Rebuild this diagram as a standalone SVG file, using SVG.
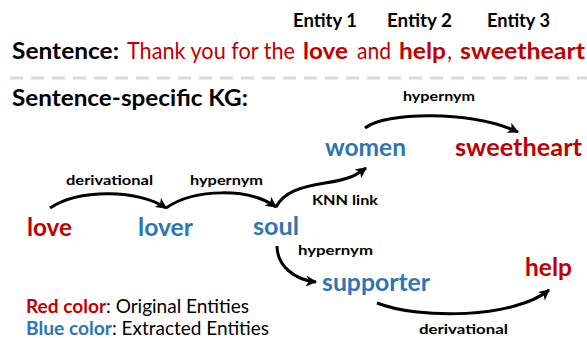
<svg xmlns="http://www.w3.org/2000/svg" width="587" height="338" viewBox="0 0 587 338">
<defs>
<marker id="ah" viewBox="0 0 10 10" refX="9" refY="5" markerWidth="12" markerHeight="11" markerUnits="userSpaceOnUse" orient="auto">
<path d="M0,0 L10,5 L0,10 L2.5,5 z" fill="#000"/>
</marker>
<style>
text{font-family:Lato,"Open Sans","Liberation Sans",sans-serif}
.b{font-weight:bold}
.red{fill:#C00000}
.blue{fill:#2E75B6}
.blk{fill:#000}
.node{font-size:25px;font-weight:bold}
.lbl{font-size:13.5px;font-weight:bold;fill:#000}
.ent{font-size:18px;font-weight:bold;fill:#000}
.big{font-size:23px}
.leg{font-size:19px}
.edge{fill:none;stroke:#000;stroke-width:3;marker-end:url(#ah)}
</style>
</defs>
<rect width="587" height="338" fill="#fff"/>
<g id="header">
<text class="ent" x="293" y="27" textLength="64" lengthAdjust="spacingAndGlyphs">Entity 1</text>
<text class="ent" x="387" y="27" textLength="65" lengthAdjust="spacingAndGlyphs">Entity 2</text>
<text class="ent" x="487" y="27" textLength="63" lengthAdjust="spacingAndGlyphs">Entity 3</text>
<text class="big b blk" x="12" y="59" textLength="107" lengthAdjust="spacingAndGlyphs">Sentence:</text>
<text class="big red" x="127" y="59" textLength="168" lengthAdjust="spacingAndGlyphs">Thank you for the</text>
<text class="big b red" x="303" y="59" textLength="45" lengthAdjust="spacingAndGlyphs">love</text>
<text class="big red" x="357" y="59" textLength="34" lengthAdjust="spacingAndGlyphs">and</text>
<text class="big b red" x="399" y="59" textLength="47" lengthAdjust="spacingAndGlyphs">help</text>
<text class="big red" x="447" y="59">,</text>
<text class="big b red" x="460" y="59" textLength="125" lengthAdjust="spacingAndGlyphs">sweetheart</text>
<line x1="10" y1="78" x2="587" y2="78" stroke="#d9d9d9" stroke-width="3" stroke-dasharray="13 8"/>
<text class="big b blk" x="12" y="106" textLength="236" lengthAdjust="spacingAndGlyphs">Sentence-specific KG:</text>
</g>
<g id="connectors">
<path class="edge" d="M50,208 C80,188 140,190 166,208"/>
<path class="edge" d="M166,208 C195,188 250,188 276,207"/>
<path class="edge" d="M276,207 C284,192 300,187 325,183 S355,176 366,168"/>
<path class="edge" d="M365,128 C385,112 470,110 518,132"/>
<path class="edge" d="M277,246 C277,266 295,280 316,282"/>
<path class="edge" d="M377,303 C420,320 515,318 549,290"/>
<text class="lbl" x="66" y="185" textLength="87" lengthAdjust="spacingAndGlyphs">derivational</text>
<text class="lbl" x="190" y="185" textLength="73" lengthAdjust="spacingAndGlyphs">hypernym</text>
<text class="lbl" x="312" y="205" textLength="66" lengthAdjust="spacingAndGlyphs">KNN link</text>
<text class="lbl" x="403" y="101" textLength="72" lengthAdjust="spacingAndGlyphs">hypernym</text>
<text class="lbl" x="298" y="255" textLength="75" lengthAdjust="spacingAndGlyphs">hypernym</text>
<text class="lbl" x="419" y="334" textLength="89" lengthAdjust="spacingAndGlyphs">derivational</text>
</g>
<g id="love"><text class="node red" x="27" y="236" textLength="45" lengthAdjust="spacingAndGlyphs">love</text></g>
<g id="lover"><text class="node blue" x="138" y="236" textLength="55" lengthAdjust="spacingAndGlyphs">lover</text></g>
<g id="soul"><text class="node blue" x="253" y="235" textLength="46" lengthAdjust="spacingAndGlyphs">soul</text></g>
<g id="women"><text class="node blue" x="325" y="156" textLength="81" lengthAdjust="spacingAndGlyphs">women</text></g>
<g id="sweetheart"><text class="node red" x="455" y="156" textLength="127" lengthAdjust="spacingAndGlyphs">sweetheart</text></g>
<g id="supporter"><text class="node blue" x="322" y="291" textLength="108" lengthAdjust="spacingAndGlyphs">supporter</text></g>
<g id="help"><text class="node red" x="525" y="276" textLength="47" lengthAdjust="spacingAndGlyphs">help</text></g>
<g id="legend">
<text class="leg b red" x="26" y="313" textLength="80" lengthAdjust="spacingAndGlyphs">Red color</text>
<text class="leg blk" x="106" y="313" textLength="143" lengthAdjust="spacingAndGlyphs">: Original Entities</text>
<text class="leg b blue" x="26" y="335" textLength="86" lengthAdjust="spacingAndGlyphs">Blue color</text>
<text class="leg blk" x="112" y="335" textLength="157" lengthAdjust="spacingAndGlyphs">: Extracted Entities</text>
</g>
</svg>
